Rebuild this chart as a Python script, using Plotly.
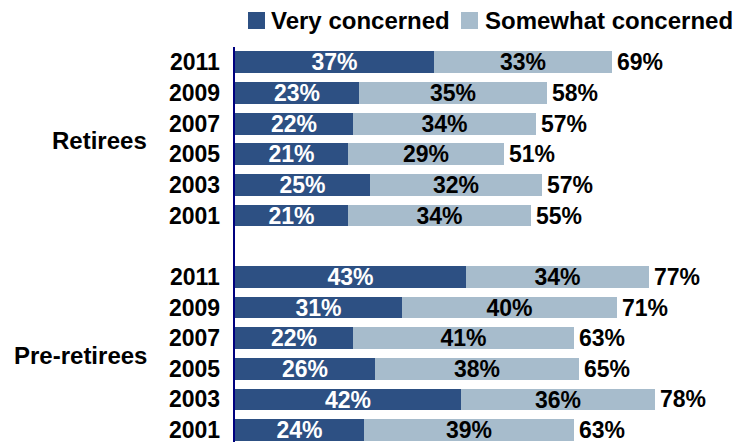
import plotly.graph_objects as go

# Survey years, listed top to bottom within each group
years = ["2011", "2009", "2007", "2005", "2003", "2001"]
groups = ["Retirees", "Pre-retirees"]

# Percent "very" and "somewhat" concerned, with the reported combined totals
retirees_very = [37, 23, 22, 21, 25, 21]
retirees_somewhat = [33, 35, 34, 29, 32, 34]
retirees_total = [69, 58, 57, 51, 57, 55]

pre_very = [43, 31, 22, 26, 42, 24]
pre_somewhat = [34, 40, 41, 38, 36, 39]
pre_total = [77, 71, 63, 65, 78, 63]

DARK = "#2D5083"
LIGHT = "#A7BCCC"
FONT = "Liberation Sans, Arial, sans-serif"

W, H = 736, 442
ML, MR, MT, MB = 235, 0, 47, 0

# Row positions: one blank slot separates the two groups
n = len(years)
pos_ret = list(range(n))
pos_pre = [n + 1 + i for i in range(n)]
positions = pos_ret + pos_pre
very = retirees_very + pre_very
somewhat = retirees_somewhat + pre_somewhat
totals = retirees_total + pre_total
tick_text = years + years

label_font = dict(family=FONT, size=23, color="black", weight="bold")

fig = go.Figure()
fig.add_trace(go.Bar(
    y=positions, x=very, orientation="h", width=0.71,
    marker=dict(color=DARK, line=dict(width=0)),
    text=[f"{v}%" for v in very], textposition="inside",
    insidetextanchor="middle", constraintext="none",
    textfont=dict(family=FONT, size=23, color="white", weight="bold"),
    name="Very concerned", showlegend=False, hoverinfo="skip",
))
fig.add_trace(go.Bar(
    y=positions, x=somewhat, orientation="h", width=0.71,
    marker=dict(color=LIGHT, line=dict(width=0)),
    text=[f"{v}%" for v in somewhat], textposition="inside",
    insidetextanchor="middle", constraintext="none",
    textfont=dict(family=FONT, size=23, color="black", weight="bold"),
    name="Somewhat concerned", showlegend=False, hoverinfo="skip",
))

px_per_pct = 5.38
plot_w = W - ML - MR
plot_h = H - MT - MB
slot_px = 30.65
y_top = -0.5
y_bottom = y_top + plot_h / slot_px


def paper_x(px):
    return (px - ML) / plot_w


def paper_y(py):
    return (H - MB - py) / plot_h


annotations = []

# Combined totals printed just past the end of each bar
for p, a, b, t in zip(positions, very, somewhat, totals):
    annotations.append(dict(
        text=f"{t}%", x=a + b, xref="x", xanchor="left", xshift=3,
        y=p, yref="y", yanchor="middle", showarrow=False, font=label_font,
    ))

# Year labels to the left of the axis line
for p, yr in zip(positions, tick_text):
    annotations.append(dict(
        text=yr, x=paper_x(222), xref="paper", xanchor="right",
        y=p, yref="y", yanchor="middle", showarrow=False, font=label_font,
    ))

# Group labels centred beside their block of rows
for label, pos in zip(groups, [pos_ret, pos_pre]):
    annotations.append(dict(
        text=label, x=paper_x(149), xref="paper", xanchor="right",
        y=sum(pos) / len(pos), yref="y", yanchor="middle", yshift=-2,
        showarrow=False, font=dict(family=FONT, size=24, color="black", weight="bold"),
    ))

# Legend drawn as swatches with labels above the plot
shapes = []
legend_items = [("Very concerned", DARK, 248, 269), ("Somewhat concerned", LIGHT, 461, 483)]
for label, color, sx, tx in legend_items:
    shapes.append(dict(
        type="rect", xref="paper", yref="paper",
        x0=paper_x(sx), x1=paper_x(sx + 17), y0=paper_y(29), y1=paper_y(12),
        fillcolor=color, line=dict(width=0),
    ))
    annotations.append(dict(
        text=label, x=paper_x(tx), xref="paper", xanchor="left",
        y=paper_y(20.5), yref="paper", yanchor="middle",
        showarrow=False, font=dict(family=FONT, size=24, color="black", weight="bold"),
    ))

fig.update_layout(
    width=W, height=H,
    margin=dict(l=ML, r=MR, t=MT, b=MB, pad=0),
    paper_bgcolor="white", plot_bgcolor="white",
    barmode="stack", bargap=0,
    annotations=annotations, shapes=shapes,
    showlegend=False,
)
fig.update_xaxes(
    range=[0, plot_w / px_per_pct], visible=False, fixedrange=True,
)
fig.update_yaxes(
    range=[y_bottom, y_top], showticklabels=False,
    showgrid=False, zeroline=False, ticks="",
    showline=True, linecolor="#00007F", linewidth=2,
    fixedrange=True,
)

fig.write_html("out.html")
